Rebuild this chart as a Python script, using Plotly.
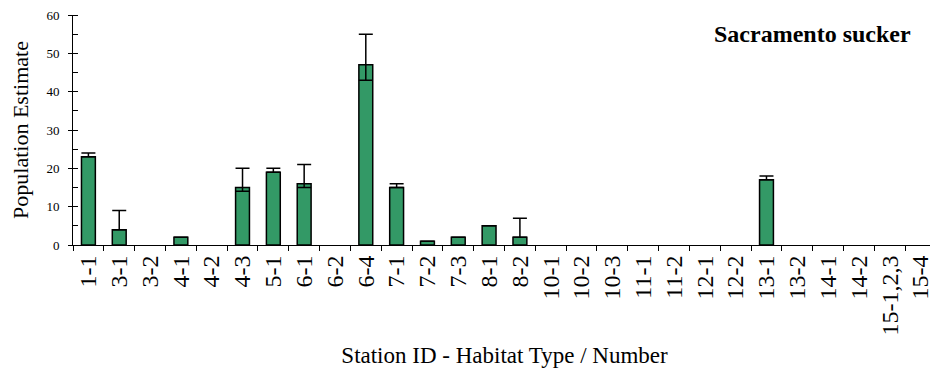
import plotly.graph_objects as go

stations = ['1-1', '3-1', '3-2', '4-1', '4-2', '4-3', '5-1', '6-1', '6-2', '6-4',
            '7-1', '7-2', '7-3', '8-1', '8-2', '10-1', '10-2', '10-3', '11-1', '11-2',
            '12-1', '12-2', '13-1', '13-2', '14-1', '14-2', '15-1,2,3', '15-4']
estimate = [23, 4, 0, 2, 0, 15, 19, 16, 0, 47,
            15, 1, 2, 5, 2, 0, 0, 0, 0, 0,
            0, 0, 17, 0, 0, 0, 0, 0]
err_plus = [1, 5, 0, 0, 0, 5, 1, 5, 0, 8,
            1, 0, 0, 0, 5, 0, 0, 0, 0, 0,
            0, 0, 1, 0, 0, 0, 0, 0]
err_minus = [0, 0, 0, 0, 0, 1, 0, 1, 0, 4,
             0, 0, 0, 0, 0, 0, 0, 0, 0, 0,
             0, 0, 0, 0, 0, 0, 0, 0]

# zero estimates are left empty: no bar outline, no error bar
y = [v if v > 0 else None for v in estimate]
plus = [p if v > 0 else None for p, v in zip(err_plus, estimate)]
minus = [m if v > 0 else None for m, v in zip(err_minus, estimate)]

fig = go.Figure(go.Bar(
    x=stations, y=y,
    marker=dict(color='#339966', line=dict(color='black', width=1.5)),
    width=0.45,
    error_y=dict(type='data', symmetric=False, array=plus, arrayminus=minus,
                 color='black', thickness=1.5, width=7),
))

# page body has an 8px margin, so the figure is sized a little smaller
font = 'Liberation Serif, Times New Roman, serif'
fig.update_layout(
    width=930, height=363,
    margin=dict(l=65, r=2, t=7, b=126),
    plot_bgcolor='white', paper_bgcolor='white',
    font=dict(family=font, color='black'),
    showlegend=False,
    annotations=[dict(text='<b>Sacramento sucker</b>', x=0.973, y=0.917,
                      xref='paper', yref='paper', xanchor='right', yanchor='middle',
                      showarrow=False, font=dict(size=24, family=font))],
)
fig.update_yaxes(
    range=[0, 60], dtick=10, ticks='outside', ticklen=4, tickwidth=1,
    tickcolor='black', showline=True, linecolor='black', linewidth=1,
    showgrid=False, zeroline=False, tickfont=dict(size=13), automargin=False,
    ticklabeloverflow='allow', ticklabelstandoff=6,
    minor=dict(dtick=5, ticks='inside', ticklen=5, tickcolor='black'),
    title=dict(text='Population Estimate', font=dict(size=22), standoff=16),
)
fig.update_xaxes(
    type='category', automargin=False,
    tickangle=-90, ticks='outside', tickson='boundaries', ticklen=5,
    tickcolor='black', showline=True, linecolor='black', linewidth=1,
    showgrid=False, tickfont=dict(size=24),
    title=dict(text='Station ID - Habitat Type / Number', font=dict(size=23), standoff=12),
)

fig.write_html("out.html")
